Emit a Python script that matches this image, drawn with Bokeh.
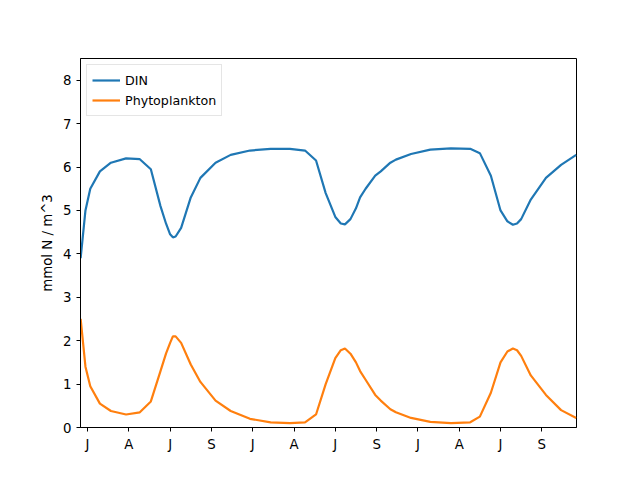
from bokeh.plotting import figure
from bokeh.models import FixedTicker, Range1d
from bokeh.embed import file_html
from bokeh.resources import INLINE

days = [-5, -1.5, 2, 9, 17, 28, 38, 46, 53, 57, 60, 62, 64, 68, 75, 82, 93, 104, 118, 133, 147, 158,
        166, 173, 180, 184, 187, 191, 195, 198, 202, 209, 213, 220, 224, 235, 249, 264, 278, 285,
        293, 300, 305, 309, 312, 315, 322, 333, 344, 355]
din = [3.9, 5.0, 5.5, 5.9, 6.1, 6.2, 6.18, 5.95, 5.1, 4.7, 4.45, 4.38, 4.4, 4.6, 5.3, 5.75, 6.1, 6.28,
       6.38, 6.42, 6.42, 6.38, 6.15, 5.4, 4.85, 4.7, 4.68, 4.8, 5.05, 5.3, 5.5, 5.8, 5.9, 6.1, 6.17,
       6.3, 6.4, 6.43, 6.42, 6.32, 5.8, 5.0, 4.75, 4.67, 4.7, 4.8, 5.25, 5.75, 6.05, 6.28]
phyto = [2.5, 1.4, 0.95, 0.55, 0.38, 0.3, 0.35, 0.6, 1.3, 1.7, 1.95, 2.1, 2.1, 1.95, 1.45, 1.05, 0.62,
         0.38, 0.2, 0.12, 0.1, 0.12, 0.3, 1.0, 1.6, 1.78, 1.82, 1.7, 1.5, 1.3, 1.1, 0.75, 0.62, 0.42,
         0.35, 0.22, 0.13, 0.1, 0.12, 0.25, 0.8, 1.5, 1.75, 1.82, 1.78, 1.65, 1.2, 0.75, 0.4, 0.22]
tick_days = [0, 30, 60, 90, 120, 150, 180, 210, 240, 270, 300, 330]
tick_labels = ["J", "A", "J", "S", "J", "A", "J", "S", "J", "A", "J", "S"]

p = figure(width=640, height=480, output_backend="svg", toolbar_location=None,
           x_range=Range1d(-5.1, 355.2), y_range=Range1d(0, 8.5),
           min_border_left=80, min_border_right=64, min_border_top=58, min_border_bottom=53)
p.line(days, din, color="#1f77b4", line_width=2.2, legend_label="DIN")
p.line(days, phyto, color="#ff7f0e", line_width=2.2, legend_label="Phytoplankton")

p.xaxis.ticker = FixedTicker(ticks=tick_days)
p.xaxis.major_label_overrides = {d: l for d, l in zip(tick_days, tick_labels)}
p.yaxis.ticker = FixedTicker(ticks=list(range(9)))
p.yaxis.axis_label = "mmol N / m^3"
for ax in (p.xaxis, p.yaxis):
    ax.major_label_text_font = "DejaVu Sans"
    ax.major_label_text_font_size = "10pt"
    ax.major_label_text_color = "black"
    ax.axis_line_color = "black"
    ax.major_tick_line_color = "black"
    ax.minor_tick_line_color = None
    ax.major_tick_out = 4
    ax.major_tick_in = 0
p.yaxis.axis_label_text_font = "DejaVu Sans"
p.yaxis.axis_label_text_font_style = "normal"
p.yaxis.axis_label_text_font_size = "10pt"
p.yaxis.axis_label_text_color = "black"
p.grid.visible = False
p.outline_line_color = "black"
p.legend.location = "top_left"
p.legend.label_text_font = "DejaVu Sans"
p.legend.label_text_font_size = "9.5pt"
p.legend.label_text_color = "black"
p.legend.border_line_color = "#cccccc"
p.legend.spacing = 0
p.legend.padding = 5
p.legend.margin = 6
p.legend.glyph_width = 28

open("out.html", "w").write(file_html(p, INLINE))
